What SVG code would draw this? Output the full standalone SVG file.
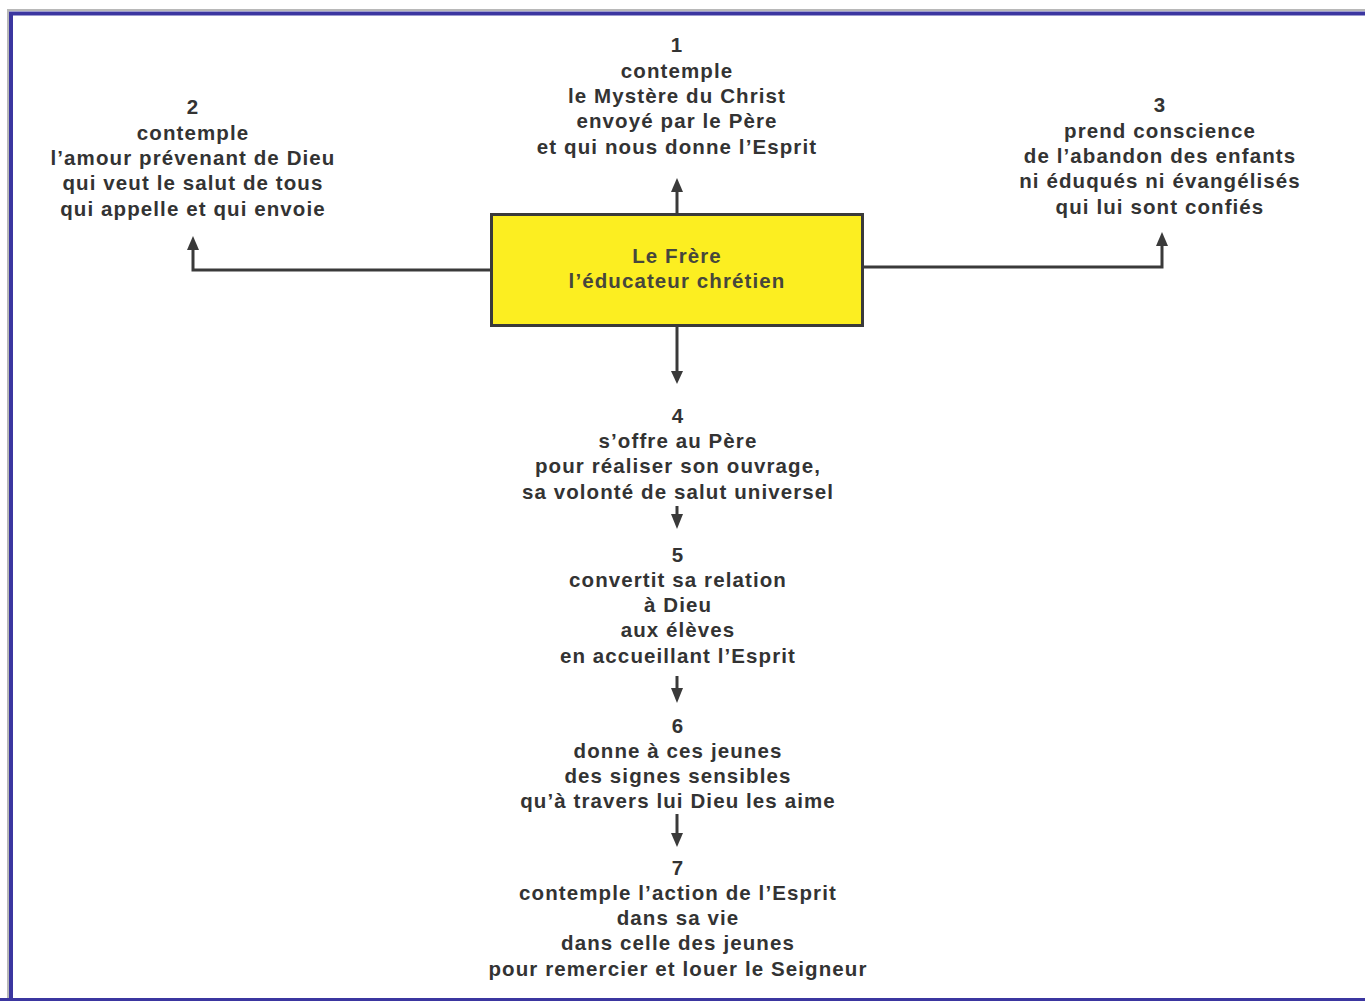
<svg xmlns="http://www.w3.org/2000/svg" width="1365" height="1001" viewBox="0 0 1365 1001">
<style>
text{font-family:"Liberation Sans",Arial,sans-serif;font-weight:bold;font-size:20.5px;fill:#333;text-anchor:middle;letter-spacing:1.1px}
.ln{fill:none;stroke:#3a3a3a;stroke-width:3}
</style>
<rect x="0" y="0" width="1365" height="1001" fill="#fff"/>
<path d="M8 1001 V10 H1365" fill="none" stroke="#b8b8b8" stroke-width="2"/>
<path d="M11 1001 V13.5 H1365" fill="none" stroke="#3b36a0" stroke-width="4"/>
<line x1="0" y1="999.5" x2="1365" y2="999.5" stroke="#3b36a0" stroke-width="3"/>

<g id="connectors">
<line class="ln" x1="677" y1="213" x2="677" y2="192"/>
<path d="M671 192 L677 178 L683 192 Z" fill="#3a3a3a"/>
<polyline class="ln" points="491,270 193,270 193,250"/>
<path d="M187 250 L193 236 L199 250 Z" fill="#3a3a3a"/>
<polyline class="ln" points="864,267 1162,267 1162,246"/>
<path d="M1156 246 L1162 232 L1168 246 Z" fill="#3a3a3a"/>
<line class="ln" x1="677" y1="327" x2="677" y2="371"/>
<path d="M671 371 L677 384 L683 371 Z" fill="#3a3a3a"/>
<line class="ln" x1="677" y1="506" x2="677" y2="515"/>
<path d="M671 514 L677 529 L683 514 Z" fill="#3a3a3a"/>
<line class="ln" x1="677" y1="676" x2="677" y2="689"/>
<path d="M671 688 L677 703 L683 688 Z" fill="#3a3a3a"/>
<line class="ln" x1="677" y1="814" x2="677" y2="834"/>
<path d="M671 833 L677 847 L683 833 Z" fill="#3a3a3a"/>
</g>

<g id="center">
<rect x="491.5" y="214.5" width="371" height="111" fill="#fcee21" stroke="#3a3a3a" stroke-width="3"/>
<text x="677" y="263" style="fill:#46463c">Le Frère</text>
<text x="677" y="288" style="fill:#46463c">l’éducateur chrétien</text>
</g>

<g id="n1">
<text x="677" y="52">1</text>
<text x="677" y="78">contemple</text>
<text x="677" y="103">le Mystère du Christ</text>
<text x="677" y="128">envoyé par le Père</text>
<text x="677" y="154">et qui nous donne l’Esprit</text>
</g>

<g id="n2">
<text x="193" y="114">2</text>
<text x="193" y="140">contemple</text>
<text x="193" y="165">l’amour prévenant de Dieu</text>
<text x="193" y="190">qui veut le salut de tous</text>
<text x="193" y="216">qui appelle et qui envoie</text>
</g>

<g id="n3">
<text x="1160" y="112">3</text>
<text x="1160" y="138">prend conscience</text>
<text x="1160" y="163">de l’abandon des enfants</text>
<text x="1160" y="188">ni éduqués ni évangélisés</text>
<text x="1160" y="214">qui lui sont confiés</text>
</g>

<g id="n4">
<text x="678" y="423">4</text>
<text x="678" y="448">s’offre au Père</text>
<text x="678" y="473">pour réaliser son ouvrage,</text>
<text x="678" y="499">sa volonté de salut universel</text>
</g>

<g id="n5">
<text x="678" y="562">5</text>
<text x="678" y="587">convertit sa relation</text>
<text x="678" y="612">à Dieu</text>
<text x="678" y="637">aux élèves</text>
<text x="678" y="663">en accueillant l’Esprit</text>
</g>

<g id="n6">
<text x="678" y="733">6</text>
<text x="678" y="758">donne à ces jeunes</text>
<text x="678" y="783">des signes sensibles</text>
<text x="678" y="808">qu’à travers lui Dieu les aime</text>
</g>

<g id="n7">
<text x="678" y="875">7</text>
<text x="678" y="900">contemple l’action de l’Esprit</text>
<text x="678" y="925">dans sa vie</text>
<text x="678" y="950">dans celle des jeunes</text>
<text x="678" y="976">pour remercier et louer le Seigneur</text>
</g>
</svg>
